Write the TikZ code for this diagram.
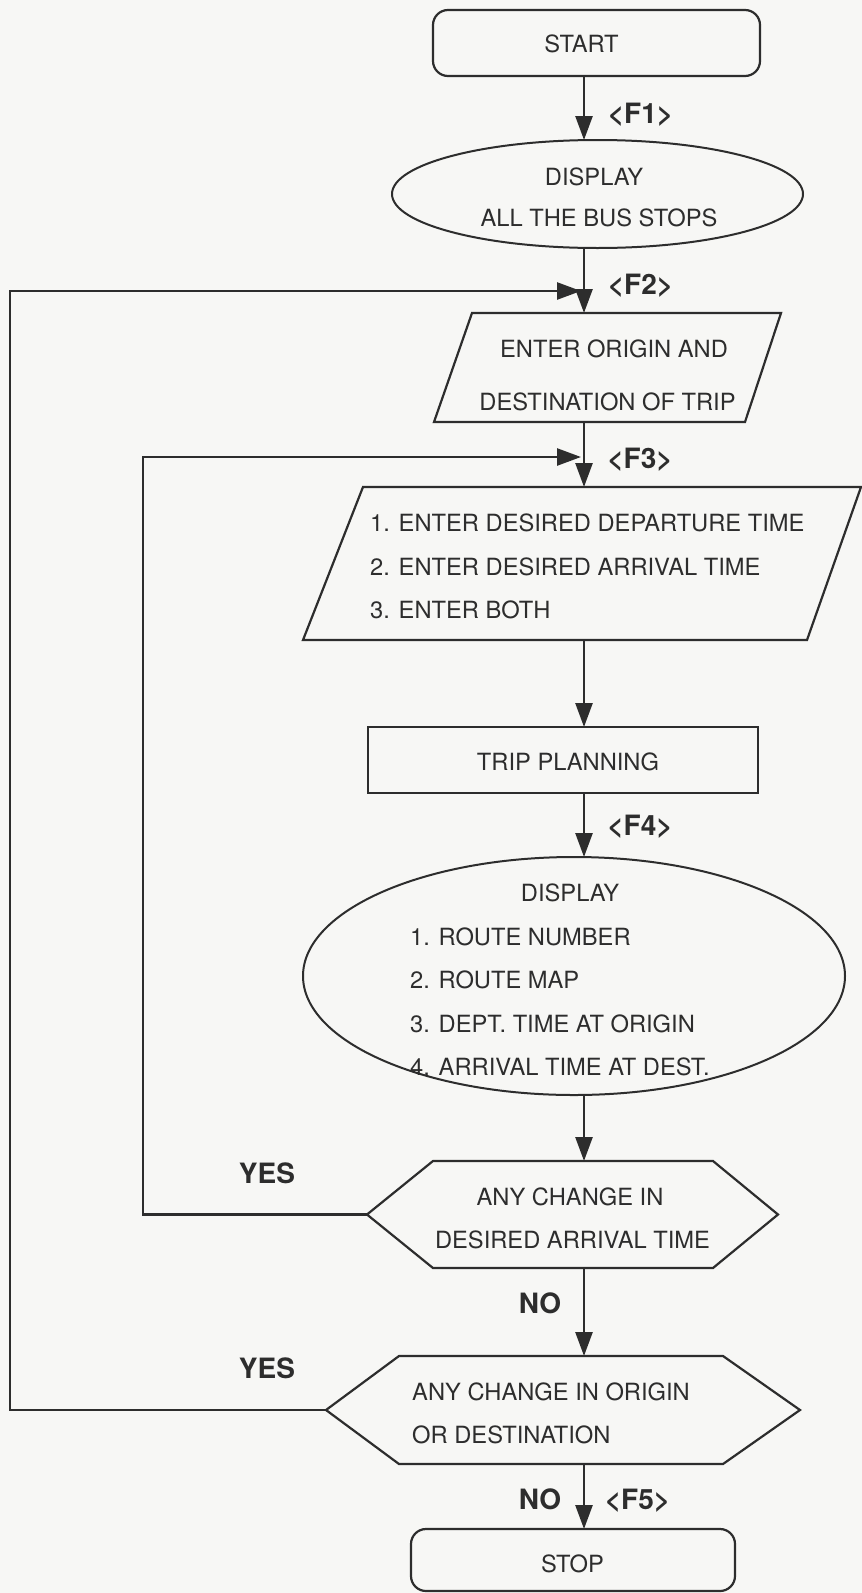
\documentclass[tikz,border=0pt]{standalone}
\usepackage{fontspec}
\setmainfont{TeX Gyre Heros}
\usetikzlibrary{arrows.meta,calc,shapes.geometric}
\definecolor{ink}{RGB}{45,45,45}
\definecolor{paper}{RGB}{247,247,245}
\begin{document}
\begin{tikzpicture}[x=1pt,y=-1pt,
  outline/.style={draw=ink,line width=2.2pt,line join=miter},
  arr/.style={draw=ink,line width=2.6pt,-{Triangle[length=24pt,width=17pt]}},
  box/.style={inner sep=0pt,outer sep=0pt},
  tx/.style={inner sep=0pt,text=ink,font=\fontsize{23.7}{28}\selectfont,text height=17pt,text depth=0pt},
  lb/.style={inner sep=0pt,text=ink,font=\fontsize{28}{32}\selectfont\bfseries,text height=20pt,text depth=0pt}]
\fill[paper] (0,0) rectangle (862,1593);
\useasboundingbox (0,0) rectangle (862,1593);

% shapes
\node[box,outline,rounded corners=15pt,minimum width=327pt,minimum height=66pt] (start) at (596.5,43) {};
\node[box,ellipse,draw=ink,line width=2pt,minimum width=411pt,minimum height=108pt] (e1) at (597.5,194) {};
\node[box,minimum width=347pt,minimum height=109pt] (p1) at (607.5,367.5) {};
\draw[outline] ($(p1.north west)+(38,0)$) -- (p1.north east) -- ($(p1.south east)+(-36,0)$) -- (p1.south west) -- cycle;
\node[box,minimum width=558pt,minimum height=153pt] (p2) at (582,563.5) {};
\draw[outline] ($(p2.north west)+(60,0)$) -- (p2.north east) -- ($(p2.south east)+(-54,0)$) -- (p2.south west) -- cycle;
\node[box,outline,minimum width=390pt,minimum height=66pt] (trip) at (563,760) {};
\node[box,ellipse,draw=ink,line width=2pt,minimum width=542pt,minimum height=238pt] (e2) at (574,976) {};
\node[box,minimum width=411pt,minimum height=107pt] (h1) at (572.5,1214.5) {};
\draw[outline] (h1.west) -- ($(h1.north west)+(66,0)$) -- ($(h1.north east)+(-65,0)$) -- (h1.east) -- ($(h1.south east)+(-65,0)$) -- ($(h1.south west)+(66,0)$) -- cycle;
\node[box,minimum width=474pt,minimum height=108pt] (h2) at (563,1410) {};
\draw[outline] (h2.west) -- ($(h2.north west)+(73,0)$) -- ($(h2.north east)+(-77,0)$) -- (h2.east) -- ($(h2.south east)+(-77,0)$) -- ($(h2.south west)+(73,0)$) -- cycle;
\node[box,outline,rounded corners=15pt,minimum width=324pt,minimum height=62pt] (stop) at (573,1560) {};

% texts
\node[tx] (tstart) at (581.5,44) {START};
\node[tx] (te1a) at (594,177) {DISPLAY};
\node[tx] (te1b) at (599,218) {ALL THE BUS STOPS};
\node[tx] (tp1a) at (614,348.5) {ENTER ORIGIN AND};
\node[tx] (tp1b) at (607.5,401.5) {DESTINATION OF TRIP};
\node[tx,anchor=west] (tp2a) at (370,523) {1. ENTER DESIRED DEPARTURE TIME};
\node[tx,anchor=west] (tp2b) at (370,566.5) {2. ENTER DESIRED ARRIVAL TIME};
\node[tx,anchor=west] (tp2c) at (370,610) {3. ENTER BOTH};
\node[tx] (ttrip) at (568,761.5) {TRIP PLANNING};
\node[tx] (te2a) at (570,893) {DISPLAY};
\node[tx,anchor=west] (te2b) at (410,936.5) {1. ROUTE NUMBER};
\node[tx,anchor=west] (te2c) at (410,980) {2. ROUTE MAP};
\node[tx,anchor=west] (te2d) at (410,1023.5) {3. DEPT. TIME AT ORIGIN};
\node[tx,anchor=west] (te2e) at (410,1066.5) {4. ARRIVAL TIME AT DEST.};
\node[tx] (th1a) at (570,1196.5) {ANY CHANGE IN};
\node[tx] (th1b) at (572.5,1240) {DESIRED ARRIVAL TIME};
\node[tx,anchor=west] (th2a) at (412,1391.5) {ANY CHANGE IN ORIGIN};
\node[tx,anchor=west] (th2b) at (412,1435) {OR DESTINATION};
\node[tx] (tstop) at (572.5,1563.5) {STOP};

% connectors
\coordinate (ax) at (584,0);
\draw[arr] (start.south -| ax) -- (e1.north -| ax);
\draw[arr] (e1.south -| ax) -- (p1.north -| ax);
\draw[arr] (p1.south -| ax) -- (p2.north -| ax);
\draw[arr] (p2.south -| ax) -- (trip.north -| ax);
\draw[arr] (trip.south -| ax) -- (e2.north -| ax);
\draw[arr] (e2.south -| ax) -- (h1.north -| ax);
\draw[arr] (h1.south -| ax) -- (h2.north -| ax);
\draw[arr] (h2.south -| ax) -- (stop.north -| ax);
\coordinate (lA) at (10,291);
\coordinate (tA) at (581,291);
\draw[arr] (h2.west) -| (lA) -- (tA);
\coordinate (lB) at (143,457);
\coordinate (tB) at (581,457);
\draw[arr] (h1.west) -| (lB) -- (tB);

% labels
\node[lb] (f1) at (640.5,113.5) {<F1>};
\node[lb] (f2) at (640.5,284.5) {<F2>};
\node[lb] (f3) at (640,458) {<F3>};
\node[lb] (f4) at (640,825) {<F4>};
\node[lb] (f5) at (637.5,1499.5) {<F5>};
\node[lb] (no1) at (540,1303) {NO};
\node[lb] (no2) at (540,1499.5) {NO};
\node[lb] (yes1) at (267,1173) {YES};
\node[lb] (yes2) at (267,1368) {YES};
\end{tikzpicture}
\end{document}
